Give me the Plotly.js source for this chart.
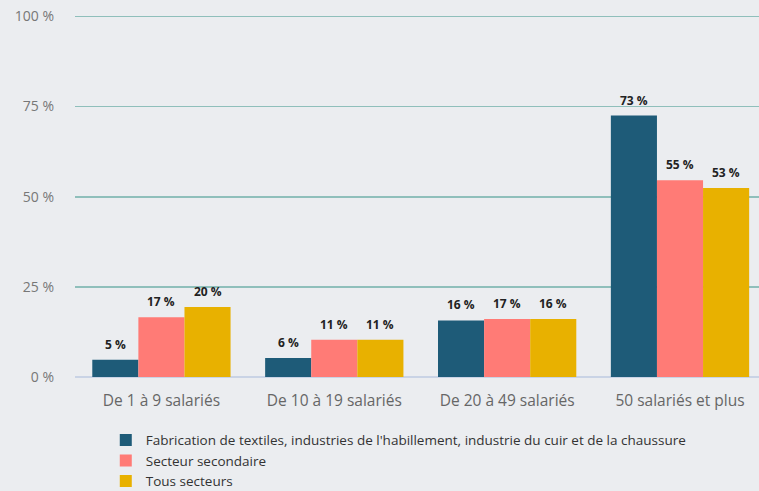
<!DOCTYPE html>
<html><head><meta charset="utf-8">
<script src="https://cdn.plot.ly/plotly-3.0.1.min.js"></script>
<style>html,body{margin:0;padding:0;background:#ebedf0;overflow:hidden}</style>
</head><body><div id="chart" style="width:759px;height:491px"></div>
<script>
const categories = ["De 1 à 9 salariés", "De 10 à 19 salariés", "De 20 à 49 salariés", "50 salariés et plus"];
const seriesNames = ["Fabrication de textiles, industries de l'habillement, industrie du cuir et de la chaussure", "Secteur secondaire", "Tous secteurs"];
const textile = [4.8, 5.3, 15.7, 72.5];
const secondaire = [16.6, 10.3, 16.1, 54.6];
const tous = [19.4, 10.3, 16.1, 52.4];
const textileLabels = ["5 %", "6 %", "16 %", "73 %"];
const secondaireLabels = ["17 %", "11 %", "17 %", "55 %"];
const tousLabels = ["20 %", "11 %", "16 %", "53 %"];
const colors = ["#1e5b78", "#ff7b76", "#e8b100"];
const yTicks = [0, 25, 50, 75, 100];
const yTickText = ["0 %", "25 %", "50 %", "75 %", "100 %"];

const vals = [textile, secondaire, tous];
const labs = [textileLabels, secondaireLabels, tousLabels];
const traces = vals.map((v, i) => ({
  type: 'bar', x: categories, y: v, name: seriesNames[i],
  marker: {color: colors[i]}, hoverinfo: 'none'
}));

const W = 759, H = 491, ML = 75, MR = 0, MT = 15, MB = 114;
const xRange = [-0.5, 3.457];
const bargap = 0.2;
const pxPerCat = (W - ML - MR) / (xRange[1] - xRange[0]);
const barW = pxPerCat * (1 - bargap) / vals.length;
const annotations = [];
vals.forEach((v, i) => {
  v.forEach((val, j) => {
    annotations.push({
      x: categories[j], y: val, xref: 'x', yref: 'y', text: labs[i][j], showarrow: false,
      xanchor: 'center', yanchor: 'bottom', xshift: (i - (vals.length - 1) / 2) * barW, yshift: 5,
      font: {family: 'Open Sans', size: 12, color: '#222', weight: 'bold'}
    });
  });
});

const layout = {
  width: W, height: H,
  margin: {l: ML, r: MR, t: MT, b: MB, autoexpand: false},
  paper_bgcolor: '#ebedf0', plot_bgcolor: '#ebedf0',
  barmode: 'group', bargap: bargap, bargroupgap: 0,
  font: {family: 'Open Sans', color: '#666'},
  xaxis: {type: 'category', range: xRange, tickfont: {size: 15.5, color: '#666'}, showgrid: false, ticks: '',
          ticklabelstandoff: 12, automargin: false, fixedrange: true},
  yaxis: {range: [0, 100.4], tickvals: yTicks, ticktext: yTickText, tickfont: {size: 14, color: '#777'},
          gridcolor: '#8fbfbb', gridwidth: 1.6, zeroline: true, zerolinecolor: '#c9d3e5', zerolinewidth: 2,
          ticklabelstandoff: 20, automargin: false},
  annotations: annotations,
  showlegend: true,
  legend: {x: 0.045, y: -0.1315, xanchor: 'left', yanchor: 'top', orientation: 'v',
           font: {size: 13.5, color: '#333'}, bgcolor: 'rgba(0,0,0,0)', tracegroupgap: 0, traceorder: 'normal'}
};
Plotly.newPlot('chart', traces, layout, {staticPlot: true});
</script></body></html>
